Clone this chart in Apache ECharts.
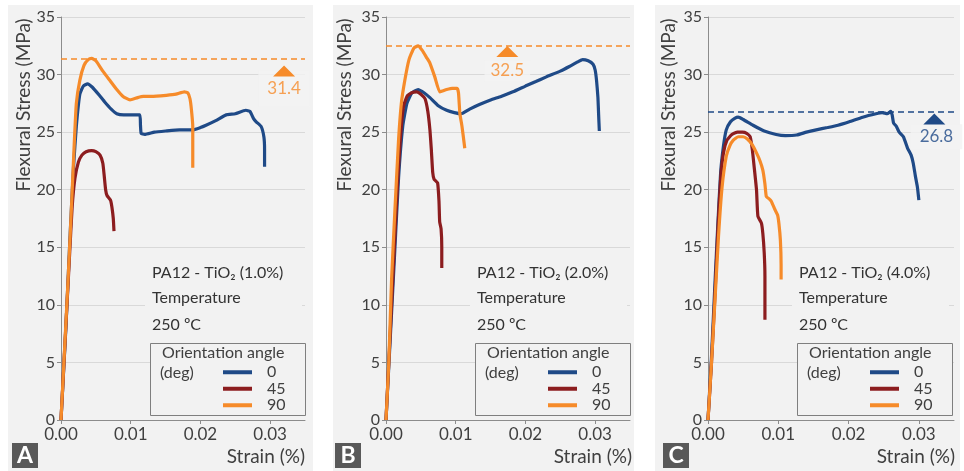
<!DOCTYPE html>
<html><head><meta charset="utf-8">
<script src="https://cdn.jsdelivr.net/npm/echarts/dist/echarts.min.js"></script>
<style>html,body{margin:0;padding:0;background:#fff}#c{width:964px;height:471px}</style>
</head><body><div id="c"></div>
<script>
// ---------- DATA ----------
const angleNames = ['0', '45', '90'];
const strainTicks = ['0.00', '0.01', '0.02', '0.03'];
const stressTicks = [0, 5, 10, 15, 20, 25, 30, 35];
const panelLetters = ['A', 'B', 'C'];
const panelTitles = ['PA12 - TiO\u2082 (1.0%)', 'PA12 - TiO\u2082 (2.0%)', 'PA12 - TiO\u2082 (4.0%)'];
const peakValues = [31.4, 32.5, 26.8];

// Panel A (1.0%)
const curveA0 = [[0,0],[0.0007,8],[0.0013,16],[0.0018,22],[0.0022,25.5],[0.0027,28.3],[0.0032,29.0],[0.0038,29.2],[0.0045,28.9],[0.0055,28.2],[0.0063,27.6],[0.0072,27.0],[0.0080,26.6],[0.0090,26.5],[0.0100,26.5],[0.0113,26.5],[0.0114,25.6],[0.0115,24.9],[0.0120,24.8],[0.0134,25.0],[0.0150,25.1],[0.0170,25.2],[0.0189,25.2],[0.0200,25.4],[0.0208,25.6],[0.0222,26.0],[0.0237,26.5],[0.0250,26.6],[0.0265,26.9],[0.0271,26.8],[0.0276,26.2],[0.0280,25.9],[0.0287,25.5],[0.0291,24.6],[0.0292,23.5],[0.0292,22.0]];
const curveA45 = [[0,0],[0.0006,7],[0.0012,14],[0.0016,18.5],[0.0020,21.0],[0.0025,22.4],[0.0030,23.0],[0.0036,23.3],[0.0044,23.4],[0.0050,23.3],[0.0056,23.0],[0.0060,22.3],[0.0062,21.2],[0.0064,20.0],[0.0066,19.5],[0.0071,19.1],[0.0073,18.5],[0.0075,17.5],[0.0076,16.4]];
const curveA90 = [[0,0],[0.0005,6],[0.0010,12],[0.0015,18.5],[0.0019,24],[0.0022,27.5],[0.0027,29.5],[0.0033,30.8],[0.0039,31.3],[0.0044,31.4],[0.0050,31.2],[0.0060,30.3],[0.0070,29.5],[0.0080,28.7],[0.0089,28.1],[0.0099,27.8],[0.0110,28.0],[0.0118,28.1],[0.0130,28.1],[0.0151,28.2],[0.0165,28.3],[0.0177,28.5],[0.0182,28.4],[0.0185,27.9],[0.0187,27.0],[0.0189,25.5],[0.0189,23.5],[0.0189,21.9]];

// Panel B (2.0%)
const curveB0 = [[0,0],[0.0006,7],[0.0012,14],[0.0018,21],[0.0024,25.5],[0.0030,27.5],[0.0037,28.4],[0.0046,28.7],[0.0055,28.4],[0.0063,28.0],[0.0075,27.3],[0.0087,26.9],[0.0098,26.7],[0.0108,26.6],[0.0120,27.0],[0.0134,27.4],[0.0150,27.8],[0.0165,28.1],[0.0182,28.5],[0.0200,29.0],[0.0215,29.4],[0.0230,29.8],[0.0250,30.3],[0.0263,30.7],[0.0275,31.1],[0.0282,31.3],[0.0290,31.2],[0.0297,30.9],[0.0300,30.4],[0.0302,29.5],[0.0304,28.0],[0.0305,26.5],[0.0306,25.1]];
const curveB45 = [[0,0],[0.0006,7.5],[0.0012,15],[0.0017,21],[0.0021,24.8],[0.0025,27.2],[0.0030,28.1],[0.0036,28.4],[0.0044,28.5],[0.0050,28.3],[0.0056,27.9],[0.0060,26.8],[0.0063,25.2],[0.0065,23.5],[0.0067,21.5],[0.0069,20.9],[0.0074,20.6],[0.0076,19.0],[0.0077,17.2],[0.0079,16.6],[0.0080,15.0],[0.0080,13.2]];
const curveB90 = [[0,0],[0.0004,5],[0.0008,12.2],[0.0013,18.5],[0.0018,24.3],[0.0022,27.5],[0.0027,29.5],[0.0033,31.3],[0.0040,32.3],[0.0046,32.5],[0.0052,32.1],[0.0058,31.5],[0.0063,31.0],[0.0070,29.8],[0.0077,28.5],[0.0082,28.6],[0.0087,28.7],[0.0095,28.8],[0.0102,28.8],[0.0104,28.4],[0.0106,26.6],[0.0109,25.5],[0.0113,23.6]];

// Panel C (4.0%)
const curveC0 = [[0,0],[0.0005,5.5],[0.0010,12],[0.0014,17],[0.0018,21.5],[0.0022,23.8],[0.0026,25.2],[0.0032,25.9],[0.0038,26.2],[0.0043,26.3],[0.0050,26.1],[0.0064,25.6],[0.0080,25.1],[0.0097,24.8],[0.0110,24.7],[0.0126,24.75],[0.0140,25.0],[0.0154,25.2],[0.0170,25.4],[0.0185,25.6],[0.0201,25.9],[0.0220,26.3],[0.0239,26.6],[0.0248,26.7],[0.0255,26.6],[0.0260,26.8],[0.0262,26.5],[0.0264,25.8],[0.0268,25.5],[0.0272,25.0],[0.0278,24.6],[0.0284,23.6],[0.0289,23.0],[0.0292,22.3],[0.0295,21.2],[0.0298,20.2],[0.0300,19.1]];
const curveC45 = [[0,0],[0.0005,5],[0.0010,11],[0.0014,16.5],[0.0018,21],[0.0022,23.2],[0.0027,24.3],[0.0034,24.8],[0.0042,25.0],[0.0049,25.0],[0.0055,24.9],[0.0060,24.6],[0.0063,23.5],[0.0066,21.8],[0.0069,20.0],[0.0071,17.7],[0.0076,17.1],[0.0078,16.2],[0.0080,14.5],[0.0081,12.5],[0.0081,10.5],[0.0081,8.7]];
const curveC90 = [[0,0],[0.0005,5],[0.0010,10.5],[0.0015,16],[0.0020,20.2],[0.0026,22.9],[0.0031,23.8],[0.0036,24.3],[0.0043,24.6],[0.0050,24.6],[0.0056,24.4],[0.0063,23.9],[0.0069,23.2],[0.0074,22.5],[0.0078,21.7],[0.0081,20.5],[0.0083,19.4],[0.0087,19.2],[0.0090,19.0],[0.0095,18.3],[0.0099,17.8],[0.0101,17.0],[0.0103,15.6],[0.0104,13.5],[0.0104,12.2]];

const curves = [[curveA0, curveA45, curveA90], [curveB0, curveB45, curveB90], [curveC0, curveC45, curveC90]];

// ---------- LAYOUT / STYLE ----------
const COLORS = ['#1F4A87', '#8C1D1F', '#F68B2A'];
const BG = '#f2f2f2';
const TXT = '#404040';
const FONT = 'Lato, "Open Sans", sans-serif';
const peakSeriesIdx = [2, 2, 0];
// annotation marker placement (data coords)
const markerPos = [[0.032, 30.3], [0.0174, 32.0], [0.0322, 26.15]];
const markerLabelPos = [[0.032, 28.76], [0.0174, 30.32], [0.0325, 24.59]];
const labelPad = [[16, 9, 3, 9], [2, 6, 2, 6], [4, 9, 4, 9]];

const gridsL = [
  {left: 61, top: 17, width: 244, height: 403},
  {left: 386, top: 17, width: 244, height: 403},
  {left: 708, top: 17, width: 246, height: 403}
];
const panelRects = [[8, 5, 305, 466], [333, 5, 301, 466], [655, 5, 305, 466]];
const offs = [0, 325, 647];
const letterX = [12, 335, 663];
const yTitleX = [24, 345, 669];
const strainRight = [305, 632, 955];

const grid = [], xAxis = [], yAxis = [], series = [], legend = [], elements = [];

for (let i = 0; i < 3; i++) {
  grid.push(Object.assign({containLabel: false}, gridsL[i]));
  xAxis.push({
    gridIndex: i, type: 'value', min: 0, max: 0.035, interval: 0.01,
    axisLine: {show: true, lineStyle: {color: '#8c8c8c', width: 1}},
    axisTick: {show: true, length: 4, lineStyle: {color: '#8c8c8c'}},
    axisLabel: {
      showMaxLabel: false, color: TXT, fontSize: 17, fontFamily: FONT, margin: 6,
      formatter: v => { const k = Math.round(v / 0.01); return k < strainTicks.length && Math.abs(v - k * 0.01) < 1e-9 ? strainTicks[k] : ''; }
    },
    splitLine: {show: false}
  });
  yAxis.push({
    gridIndex: i, type: 'value', min: stressTicks[0], max: stressTicks[stressTicks.length - 1], interval: 5,
    axisLine: {show: true, lineStyle: {color: '#8c8c8c', width: 1}},
    axisTick: {show: true, length: 4, lineStyle: {color: '#8c8c8c'}},
    axisLabel: {color: TXT, fontSize: 16, fontFamily: FONT, margin: 6},
    splitLine: {show: true, lineStyle: {color: '#d9d9d9', width: 1}}
  });
  for (let k = 0; k < 3; k++) {
    const s = {
      type: 'line', name: angleNames[k], xAxisIndex: i, yAxisIndex: i,
      data: curves[i][k], showSymbol: false, symbol: 'none', smooth: 0.15,
      lineStyle: {color: COLORS[k], width: 3.2}, itemStyle: {color: COLORS[k]},
      emphasis: {disabled: true}, z: 3, animation: false
    };
    if (k === peakSeriesIdx[i]) {
      s.markLine = {
        silent: true, symbol: 'none', label: {show: false}, animation: false,
        lineStyle: {color: COLORS[k], type: [6, 4], width: 1.5},
        data: [{yAxis: peakValues[i]}]
      };
    }
    series.push(s);
  }
  const pc = COLORS[peakSeriesIdx[i]];
  series.push({
    type: 'scatter', name: 'peakLabel' + i, xAxisIndex: i, yAxisIndex: i, z: 2,
    data: [markerLabelPos[i]], symbolSize: 0, silent: true, animation: false,
    label: {show: true, position: 'inside', formatter: () => peakValues[i].toFixed(1),
      color: pc, fontSize: 17, fontFamily: FONT, backgroundColor: BG, padding: labelPad[i]}
  });
  series.push({
    type: 'scatter', name: 'peakMarker' + i, xAxisIndex: i, yAxisIndex: i, z: 5, zlevel: 1,
    data: [markerPos[i]], symbol: 'triangle', symbolSize: [22, 11], silent: true, animation: false,
    itemStyle: {color: pc, opacity: 1}
  });
  legend.push({
    orient: 'vertical', left: 218 + offs[i], top: 359, itemWidth: 29, itemHeight: 4, itemGap: 0,
    icon: 'rect', data: angleNames, selectedMode: false, z: 10,
    textStyle: {fontSize: 16, fontFamily: FONT, color: TXT, lineHeight: 16.5, padding: [0, 0, 0, 10]}
  });

  const o = offs[i];
  const pr = panelRects[i];
  elements.push({type: 'rect', z: -10, silent: true, shape: {x: pr[0], y: pr[1], width: pr[2], height: pr[3]}, style: {fill: BG}});
  // annotation block
  elements.push({type: 'rect', z: 1, silent: true, shape: {x: 145 + o, y: 262, width: 157, height: 74}, style: {fill: BG}});
  const lines = [panelTitles[i], 'Temperature', '250 \u00baC'];
  const ys = [273, 298, 325];
  for (let j = 0; j < 3; j++) {
    elements.push({type: 'text', z: 2, silent: true, x: 152 + o, y: ys[j],
      style: {text: lines[j], fill: '#333', font: '16px ' + FONT, align: 'left', verticalAlign: 'middle'}});
  }
  // legend box
  elements.push({type: 'rect', z: 1, silent: true, shape: {x: 150.5 + o, y: 343.5, width: 155, height: 72},
    style: {fill: BG, stroke: '#7f7f7f', lineWidth: 1}});
  elements.push({type: 'text', z: 2, silent: true, x: 162 + o, y: 353,
    style: {text: 'Orientation angle', fill: TXT, font: '16px ' + FONT, align: 'left', verticalAlign: 'middle'}});
  elements.push({type: 'text', z: 2, silent: true, x: 160 + o, y: 373,
    style: {text: '(deg)', fill: TXT, font: '16px ' + FONT, align: 'left', verticalAlign: 'middle'}});
  // axis titles
  elements.push({type: 'text', z: 2, silent: true, x: yTitleX[i], y: 105, rotation: Math.PI / 2,
    style: {text: 'Flexural Stress (MPa)', fill: TXT, font: '19px ' + FONT, align: 'center', verticalAlign: 'middle'}});
  elements.push({type: 'text', z: 2, silent: true, x: strainRight[i], y: 457,
    style: {text: 'Strain (%)', fill: TXT, font: '19px ' + FONT, align: 'right', verticalAlign: 'middle'}});
  // panel letter
  elements.push({type: 'rect', z: 2, silent: true, shape: {x: letterX[i], y: 443, width: 26, height: 25}, style: {fill: '#595959'}});
  elements.push({type: 'text', z: 3, silent: true, x: letterX[i] + 13, y: 456,
    style: {text: panelLetters[i], fill: '#fff', font: 'bold 23px ' + FONT, align: 'center', verticalAlign: 'middle'}});
}

const chart = echarts.init(document.getElementById('c'), null, {renderer: 'canvas'});
chart.setOption({
  backgroundColor: '#ffffff',
  animation: false,
  grid, xAxis, yAxis, series, legend,
  graphic: {elements}
});
</script>
</body></html>
